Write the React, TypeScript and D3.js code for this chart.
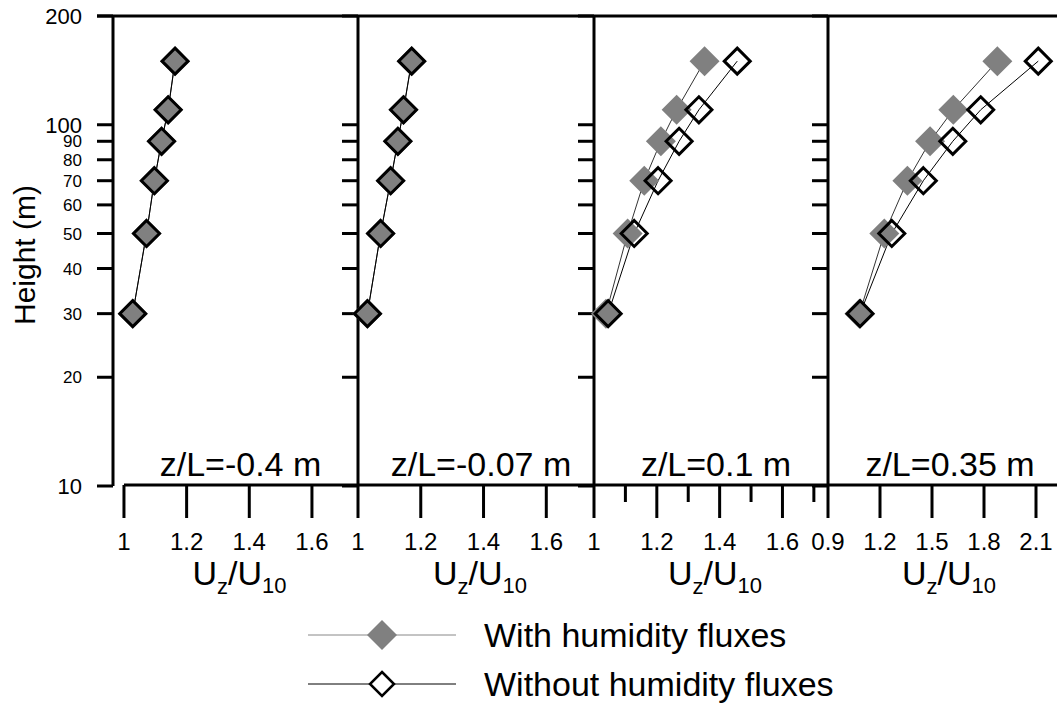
import React from "react";
import * as d3 from "d3";

// heights of the measurement levels (m)
const heights = [30, 50, 70, 90, 110, 150];

const panelLabels = ["z/L=-0.4 m", "z/L=-0.07 m", "z/L=0.1 m", "z/L=0.35 m"];

// Uz/U10 per panel, same order as heights
const withHumidity = [
  [1.028, 1.072, 1.097, 1.12, 1.141, 1.163],
  [1.03, 1.072, 1.104, 1.127, 1.145, 1.171],
  [1.038, 1.107, 1.16, 1.213, 1.263, 1.352],
  [1.081, 1.225, 1.358, 1.489, 1.623, 1.877],
];
const withoutHumidity = [
  [1.028, 1.072, 1.097, 1.12, 1.141, 1.163],
  [1.03, 1.072, 1.104, 1.127, 1.145, 1.171],
  [1.045, 1.128, 1.204, 1.271, 1.334, 1.456],
  [1.085, 1.268, 1.45, 1.62, 1.781, 2.113],
];

const xDomains = [
  [0.965, 1.747],
  [1, 1.752],
  [1, 1.745],
  [0.9, 2.25],
];
const xTicks = [
  [1, 1.2, 1.4, 1.6],
  [1, 1.2, 1.4, 1.6],
  [1, 1.2, 1.4, 1.6],
  [0.9, 1.2, 1.5, 1.8, 2.1],
];
const xMinorTicks = [[], [], [1.1, 1.3, 1.5, 1.7], []];

const yTicks = [10, 20, 30, 40, 50, 60, 70, 80, 90, 100, 200];
const yMajor = [10, 100, 200];

const legendLabels = ["With humidity fluxes", "Without humidity fluxes"];

// layout
const W = 1057;
const H = 703;
const top = 16;
const bottom = 486;
const panelEdges = [113, 358, 594, 828, 1062];
const font = "'Liberation Sans', Arial, sans-serif";
const gray = "#808080";

const diamond = (cx: number, cy: number, r: number) =>
  `M${cx},${cy - r}L${cx + r},${cy}L${cx},${cy + r}L${cx - r},${cy}Z`;

const App = () => {
  const y = d3.scaleLog().domain([10, 200]).range([bottom, top]);

  const panels = panelLabels.map((label, i) => {
    const left = panelEdges[i];
    const right = panelEdges[i + 1];
    const x = d3.scaleLinear().domain(xDomains[i]).range([left, right]);
    const line = d3
      .line<number>()
      .x(d => x(d))
      .y((_, j) => y(heights[j]));
    const mid = (left + right) / 2;
    const axisStart = x(xTicks[i][0]);
    return (
      <g key={i}>
        {/* left y axis with outward ticks */}
        <line x1={left} x2={left} y1={top} y2={bottom} stroke="#000" strokeWidth={3} />
        {yTicks.map(t => (
          <line key={t} x1={left - 16} x2={left} y1={y(t)} y2={y(t)} stroke="#000" strokeWidth={3} />
        ))}
        {/* x axis */}
        <line x1={axisStart} x2={right} y1={bottom - 1} y2={bottom - 1} stroke="#000" strokeWidth={3} />
        {xTicks[i].map(t => (
          <g key={t}>
            <line x1={x(t)} x2={x(t)} y1={bottom - 1} y2={518} stroke="#000" strokeWidth={3} />
            <text x={x(t)} y={550} textAnchor="middle" fontSize={24} fontFamily={font}>
              {d3.format("")(t)}
            </text>
          </g>
        ))}
        {xMinorTicks[i].map(t => (
          <line key={t} x1={x(t)} x2={x(t)} y1={bottom - 1} y2={502} stroke="#000" strokeWidth={3} />
        ))}
        <text x={mid + 4} y={585} textAnchor="middle" fontSize={34} fontFamily={font}>
          U<tspan fontSize={22} dy={9}>z</tspan>
          <tspan dy={-9}>/U</tspan>
          <tspan fontSize={22} dy={8}>10</tspan>
        </text>
        <text x={mid + 5} y={476} textAnchor="middle" fontSize={34} fontFamily={font}>
          {label}
        </text>
        {/* series */}
        <path d={line(withHumidity[i]) || ""} fill="none" stroke="#333" strokeWidth={1} />
        <path d={line(withoutHumidity[i]) || ""} fill="none" stroke="#000" strokeWidth={1} />
        {withHumidity[i].map((v, j) => (
          <path key={"w" + j} d={diamond(x(v), y(heights[j]), 15)} fill={gray} />
        ))}
        {withoutHumidity[i].map((v, j) => (
          <path key={"n" + j} d={diamond(x(v), y(heights[j]), 13)} fill="none" stroke="#000" strokeWidth={3} />
        ))}
      </g>
    );
  });

  return (
    <svg
      width={W}
      height={H}
      style={{ position: "absolute", left: 0, top: 0, background: "#fff" }}
    >
      <line x1={97} x2={W} y1={top} y2={top} stroke="#000" strokeWidth={3} />
      {panels}
      {/* y tick labels */}
      {yTicks.map(t => {
        const major = yMajor.includes(t);
        const fs = major ? 22 : 17;
        return (
          <text
            key={t}
            x={82}
            y={y(t) + fs * 0.36}
            textAnchor="end"
            fontSize={fs}
            fontFamily={font}
          >
            {t}
          </text>
        );
      })}
      <text
        transform={`translate(35,255) rotate(-90)`}
        textAnchor="middle"
        fontSize={30}
        fontFamily={font}
      >
        Height (m)
      </text>
      {/* legend */}
      <line x1={308} x2={456} y1={635} y2={635} stroke="#888" strokeWidth={1} />
      <path d={diamond(382, 635, 15)} fill={gray} />
      <text x={484} y={647} fontSize={34} fontFamily={font}>
        {legendLabels[0]}
      </text>
      <line x1={308} x2={456} y1={684} y2={684} stroke="#000" strokeWidth={1} />
      <path d={diamond(382, 684, 12)} fill="#fff" stroke="#000" strokeWidth={2.5} />
      <text x={484} y={696} fontSize={34} fontFamily={font}>
        {legendLabels[1]}
      </text>
    </svg>
  );
};

export default App;
